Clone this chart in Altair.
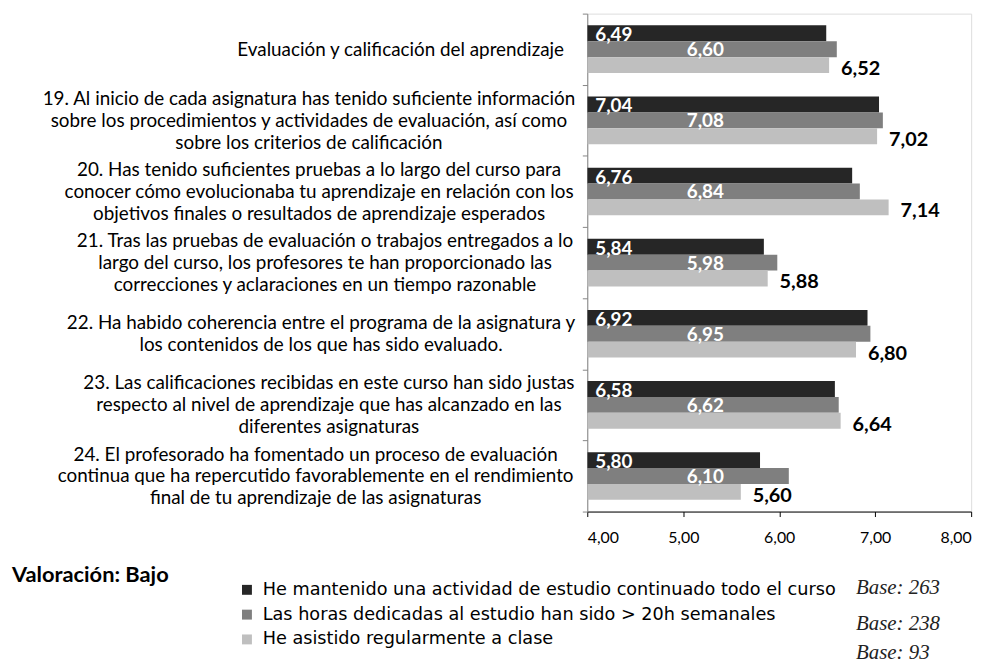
import altair as alt
import pandas as pd

categories = [
    "Evaluación y calificación del aprendizaje",
    "19.  Al inicio de cada asignatura has tenido suficiente información|sobre los procedimientos y actividades de evaluación, así como|sobre los criterios de calificación",
    "20.  Has tenido suficientes pruebas  a lo largo del curso para|conocer cómo evolucionaba tu aprendizaje en relación con los|objetivos finales o resultados de aprendizaje esperados",
    "21.  Tras las pruebas de evaluación o trabajos entregados a lo|largo del curso, los profesores te han proporcionado las|correcciones y aclaraciones en un tiempo razonable",
    "22.  Ha habido coherencia entre el programa de la asignatura y|los contenidos de los que has sido evaluado.",
    "23.  Las calificaciones recibidas en este curso han sido justas|respecto al nivel de aprendizaje que has alcanzado en las|diferentes asignaturas",
    "24.  El profesorado ha fomentado un proceso de evaluación|continua que ha repercutido favorablemente en el rendimiento|final de tu aprendizaje de las asignaturas",
]
series = [
    "He mantenido una actividad de estudio continuado todo el curso",
    "Las horas dedicadas al estudio han sido > 20h semanales",
    "He asistido regularmente a clase",
]
s1_values = [6.49, 7.04, 6.76, 5.84, 6.92, 6.58, 5.80]
s2_values = [6.60, 7.08, 6.84, 5.98, 6.95, 6.62, 6.10]
s3_values = [6.52, 7.02, 7.14, 5.88, 6.80, 6.64, 5.60]
bases = [263, 238, 93]
x_ticks = [4, 5, 6, 7, 8]
colors = ["#262626", "#7f7f7f", "#bfbfbf"]

rows = []
for vals, s in zip([s1_values, s2_values, s3_values], series):
    for c, v in zip(categories, vals):
        rows.append({"cat": c, "series": s, "value": v})
df = pd.DataFrame(rows)

FONT = "Lato"
LABEL_SIZE = 19
LINE_H = 22
GAP = 19  # gap between the right edge of the label block and the axis

# rough Lato advance widths (em/1000) to right-align each centred label block
_W = {" ": 193, "a": 490, "b": 550, "c": 450, "d": 550, "e": 510, "f": 320, "g": 490,
      "h": 550, "i": 230, "j": 230, "k": 480, "l": 230, "m": 830, "n": 550, "o": 560,
      "p": 550, "q": 550, "r": 350, "s": 410, "t": 330, "u": 550, "v": 480, "w": 730,
      "x": 470, "y": 480, "z": 440, ".": 230, ",": 230}
_ACC = {"á": "a", "é": "e", "í": "i", "ó": "o", "ú": "u"}


def text_w(s):
    s = " ".join(s.split())
    tot = 0
    for ch in s:
        ch = _ACC.get(ch, ch)
        if ch.isdigit():
            tot += 580
        elif ch.isupper():
            tot += 650
        else:
            tot += _W.get(ch, 500)
    return tot / 1000 * LABEL_SIZE


pad_conditions = []
for c in categories[1:]:
    w = max(text_w(line) for line in c.split("|"))
    pad_conditions.append({"test": f"datum.value === '{c}'", "value": round(GAP + w / 2, 1)})

first_test = f"datum.value === '{categories[0]}'"
three_test = "length(split(datum.value, '|')) === 3"
two_test = "length(split(datum.value, '|')) === 2"

y_enc = alt.Y(
    "cat:N",
    sort=categories,
    scale=alt.Scale(paddingInner=0, paddingOuter=0),
    axis=alt.Axis(
        title=None,
        labelExpr="split(datum.label, '|')",
        labelFont=FONT,
        labelFontSize=LABEL_SIZE,
        labelColor="#000000",
        labelLineHeight=LINE_H,
        labelLimit=700,
        labelBaseline="middle",
        labelAlign={"condition": {"test": first_test, "value": "right"}, "value": "center"},
        labelPadding={"condition": pad_conditions, "value": GAP},
        labelOffset={"condition": [{"test": three_test, "value": -LINE_H},
                                   {"test": two_test, "value": -LINE_H / 2}], "value": 0},
        domainColor="#868686",
        tickColor="#868686",
        tickSize=5,
        tickBand="extent",
        grid=False,
    ),
)
yoff = alt.YOffset("series:N", sort=series, scale=alt.Scale(paddingOuter=0.74, paddingInner=0))

x_enc = alt.X(
    "value:Q",
    scale=alt.Scale(domain=[4, 8], nice=False, zero=False),
    axis=alt.Axis(
        title=None,
        values=x_ticks,
        labelExpr="replace(format(datum.value, '.2f'), '.', ',')",
        labelFont=FONT,
        labelFontSize=16,
        labelColor="#000000",
        labelPadding=13,
        domainColor="#000000",
        tickColor="#000000",
        tickSize=5,
        grid=False,
    ),
)

base = alt.Chart(df)

bars = base.mark_bar(clip=True).encode(
    x=x_enc,
    x2=alt.datum(4),
    y=y_enc,
    yOffset=yoff,
    color=alt.Color(
        "series:N",
        sort=series,
        scale=alt.Scale(domain=series, range=colors),
        legend=alt.Legend(
            title=None,
            orient="none",
            legendX=-352,
            legendY=572,
            direction="vertical",
            symbolType="square",
            symbolSize=100,
            symbolStrokeWidth=0,
            labelFont="DejaVu Sans",
            labelFontSize=17.8,
            labelColor="#000000",
            labelOffset=7,
            labelLimit=800,
            rowPadding=6,
            padding=0,
        ),
    ),
)

lbl = "replace(format(datum.value, '.2f'), '.', ',')"

lab1 = base.transform_filter(alt.datum.series == series[0]).transform_calculate(lbl=lbl).mark_text(
    align="left", baseline="middle", dy=2, font=FONT, fontSize=19, fontWeight="bold", color="white"
).encode(x=alt.value(8), y=alt.Y("cat:N", sort=categories), yOffset=yoff, text="lbl:N")

lab2 = base.transform_filter(alt.datum.series == series[1]).transform_calculate(lbl=lbl).mark_text(
    align="center", baseline="middle", dy=1, font=FONT, fontSize=19, fontWeight="bold", color="white"
).encode(x=alt.value(119), y=alt.Y("cat:N", sort=categories), yOffset=yoff, text="lbl:N")

lab3 = base.transform_filter(alt.datum.series == series[2]).transform_calculate(lbl=lbl).mark_text(
    align="left", baseline="middle", dx=12, dy=4, font=FONT, fontSize=20, fontWeight="bold", color="black"
).encode(x="value:Q", y=alt.Y("cat:N", sort=categories), yOffset=yoff, text="lbl:N")

one = pd.DataFrame({"k": [0]})
title_txt = alt.Chart(one).mark_text(
    align="left", baseline="middle", font=FONT, fontSize=22, fontWeight="bold", color="black"
).encode(x=alt.value(-580), y=alt.value(566), text=alt.value("Valoración: Bajo"))

base_layers = []
for b, yy in zip(bases, [579, 615, 645]):
    base_layers.append(
        alt.Chart(one).mark_text(
            align="left", baseline="middle", font="Liberation Serif", fontSize=21,
            fontStyle="italic", color="#222222"
        ).encode(x=alt.value(271), y=alt.value(yy), text=alt.value(f"Base: {b}"))
    )

chart = alt.layer(bars, lab1, lab2, lab3, title_txt, *base_layers).properties(
    width=387,
    height=502,
    autosize=alt.AutoSizeParams(type="none"),
    padding={"left": 584, "top": 3, "right": 19, "bottom": 150},
).configure_view(stroke=None).configure(background="white")

chart.save("out.html", embed_options={"renderer": "svg", "actions": False})
